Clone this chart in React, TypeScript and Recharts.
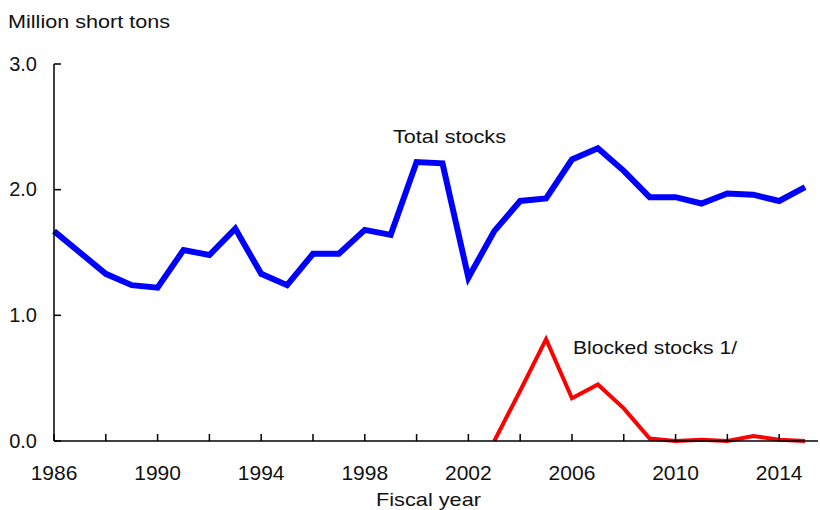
import { LineChart, Line, XAxis, YAxis } from "recharts";

const years = [
  1986, 1987, 1988, 1989, 1990, 1991, 1992, 1993, 1994, 1995, 1996, 1997, 1998, 1999, 2000,
  2001, 2002, 2003, 2004, 2005, 2006, 2007, 2008, 2009, 2010, 2011, 2012, 2013, 2014, 2015,
];
const totalStocks = [
  1.67, 1.5, 1.33, 1.24, 1.22, 1.52, 1.48, 1.69, 1.33, 1.24, 1.49, 1.49, 1.68, 1.64, 2.22,
  2.21, 1.3, 1.67, 1.91, 1.93, 2.24, 2.33, 2.15, 1.94, 1.94, 1.89, 1.97, 1.96, 1.91, 2.02,
];
const blockedStocks = [
  null, null, null, null, null, null, null, null, null, null, null, null, null, null, null,
  null, null, 0, 0.4, 0.81, 0.34, 0.45, 0.26, 0.02, 0.0, 0.01, 0.0, 0.04, 0.01, 0.0,
];
const xTicks = [1986, 1988, 1990, 1992, 1994, 1996, 1998, 2000, 2002, 2004, 2006, 2008, 2010, 2012, 2014];
const xLabels = ["1986", "1990", "1994", "1998", "2002", "2006", "2010", "2014"];
const yTicks = [0, 1, 2, 3];

const data = years.map((year, i) => ({
  year,
  total: totalStocks[i],
  blocked: blockedStocks[i],
}));

const font = "Arial, 'Liberation Sans', Helvetica, sans-serif";

function XTick(props: any) {
  const { x, y, payload } = props;
  const label = String(payload.value);
  return (
    <g>
      <line x1={x} x2={x} y1={y - 7} y2={y} stroke="#000" strokeWidth={1.5} />
      {xLabels.includes(label) && (
        <text x={x} y={y + 39} textAnchor="middle" fontSize={21} fontFamily={font} fill="#111">
          {label}
        </text>
      )}
    </g>
  );
}

function YTick(props: any) {
  const { x, y, payload } = props;
  return (
    <g>
      <line x1={x} x2={x + 7} y1={y} y2={y} stroke="#000" strokeWidth={1.5} />
      <text x={x - 17} y={y + 6.5} textAnchor="end" fontSize={20} fontFamily={font} fill="#111">
        {payload.value.toFixed(1)}
      </text>
    </g>
  );
}

export default function App() {
  return (
    <div style={{ position: "fixed", left: 0, top: 0, width: 820, height: 510, background: "#fff" }}>
      <LineChart
        width={820}
        height={510}
        data={data}
        margin={{ top: 64, right: 2, bottom: 0, left: 0 }}
      >
        <XAxis
          type="number"
          dataKey="year"
          domain={[1986, 2015.5]}
          ticks={xTicks}
          interval={0}
          height={69}
          tickLine={false}
          tickSize={0}
          tickMargin={0}
          axisLine={{ stroke: "#000", strokeWidth: 1.5 }}
          tick={<XTick />}
        />
        <YAxis
          type="number"
          domain={[0, 3]}
          ticks={yTicks}
          interval={0}
          width={54}
          tickLine={false}
          tickSize={0}
          tickMargin={0}
          axisLine={{ stroke: "#000", strokeWidth: 1.5 }}
          tick={<YTick />}
        />
        <Line
          type="linear"
          dataKey="total"
          stroke="#0000ff"
          strokeWidth={6}
          dot={false}
          isAnimationActive={false}
        />
        <Line
          type="linear"
          dataKey="blocked"
          stroke="#ff0000"
          strokeWidth={4}
          dot={false}
          isAnimationActive={false}
        />
      </LineChart>
      <svg
        width={820}
        height={510}
        style={{ position: "absolute", left: 0, top: 0, pointerEvents: "none" }}
      >
        <text x={8} y={28} fontSize={19} fontFamily={font} fill="#111" textLength={162} lengthAdjust="spacingAndGlyphs">
          Million short tons
        </text>
        <text x={393} y={143} fontSize={19} fontFamily={font} fill="#111" textLength={113} lengthAdjust="spacingAndGlyphs">
          Total stocks
        </text>
        <text x={573} y={354} fontSize={19} fontFamily={font} fill="#111" textLength={164} lengthAdjust="spacingAndGlyphs">
          Blocked stocks 1/
        </text>
        <text x={376} y={506} fontSize={19} fontFamily={font} fill="#111" textLength={105} lengthAdjust="spacingAndGlyphs">
          Fiscal year
        </text>
      </svg>
    </div>
  );
}
